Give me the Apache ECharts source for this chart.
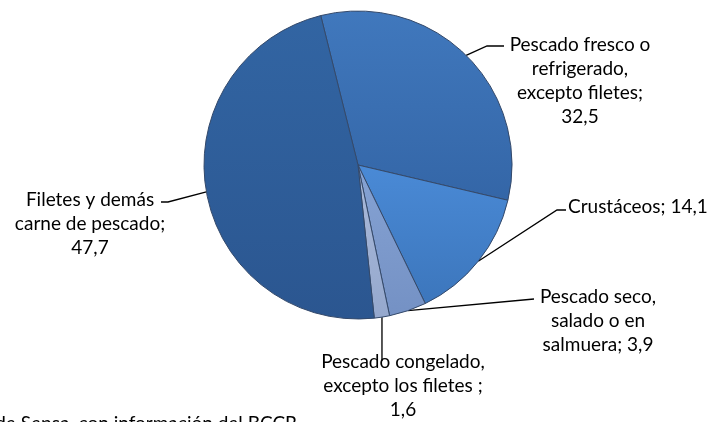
<!DOCTYPE html>
<html>
<head>
<meta charset="utf-8">
<script src="https://cdn.jsdelivr.net/npm/echarts@6/dist/echarts.min.js"></script>
<style>
  html, body { margin: 0; padding: 0; background: #fff; }
  #chart { width: 707px; height: 422px; }
</style>
</head>
<body>
<div id="chart"></div>
<script>
// categories (wrapped as in the source chart) and values
var categories = [
  'Pescado fresco o\nrefrigerado,\nexcepto filetes',
  'Crustáceos',
  'Pescado seco,\nsalado o en\nsalmuera',
  'Pescado congelado,\nexcepto los filetes',
  'Filetes y demás\ncarne de pescado'
];
var values = [32.5, 14.1, 3.9, 1.6, 47.7];
var separators = [';\n', '; ', '; ', ' ;\n', ';\n'];
var colors = [
  ['#4078bd', '#3466a7'],
  ['#4a8ad6', '#3c76bc'],
  ['#86a3d4', '#7491c4'],
  ['#aabada', '#95a8cd'],
  ['#3265a3', '#2b5690']
];

// label placement: [x, y, align, leader bend points]
var labelLayoutCfg = [
  { x: 580, y: 33, align: 'center', pts: [[487, 46], [504, 46]] },
  { x: 568, y: 195, align: 'left', pts: [[557, 210], [566, 210]] },
  { x: 598, y: 285, align: 'center', pts: [[534, 299]] },
  { x: 403, y: 350, align: 'center', pts: [[382, 361]] },
  { x: 90, y: 188, align: 'center', pts: [[168, 202], [161, 202]] }
];

var chart = echarts.init(document.getElementById('chart'));

var pieData = categories.map(function (name, i) {
  return {
    name: name,
    value: values[i],
    itemStyle: {
      color: new echarts.graphic.LinearGradient(0, 0, 0, 1, [
        { offset: 0, color: colors[i][0] },
        { offset: 1, color: colors[i][1] }
      ])
    }
  };
});

chart.setOption({
  animation: false,
  graphic: [{
    type: 'text',
    right: 410,
    top: 414,
    style: {
      text: 'Fuente: elaboración de Sepsa, con información del BCCR',
      font: '19px Lato',
      fill: '#000'
    }
  }],
  series: [{
    type: 'pie',
    center: [358, 165],
    radius: 154,
    startAngle: 104,
    clockwise: true,
    data: pieData,
    itemStyle: {
      borderColor: '#34496a',
      borderWidth: 1
    },
    label: {
      show: true,
      position: 'outside',
      fontFamily: 'Lato',
      fontSize: 19,
      lineHeight: 24,
      color: '#000',
      formatter: function (p) {
        return p.name + separators[p.dataIndex] + String(p.value).replace('.', ',');
      }
    },
    labelLine: {
      show: true,
      length: 10,
      length2: 10,
      lineStyle: { color: '#000', width: 1.3 }
    },
    labelLayout: function (params) {
      var cfg = labelLayoutCfg[params.dataIndex];
      var start = params.labelLinePoints ? params.labelLinePoints[0] : null;
      var res = {
        x: cfg.x,
        y: cfg.y,
        align: cfg.align,
        verticalAlign: 'top'
      };
      if (start) {
        res.labelLinePoints = [start].concat(cfg.pts);
      }
      return res;
    }
  }]
});
</script>
</body>
</html>
